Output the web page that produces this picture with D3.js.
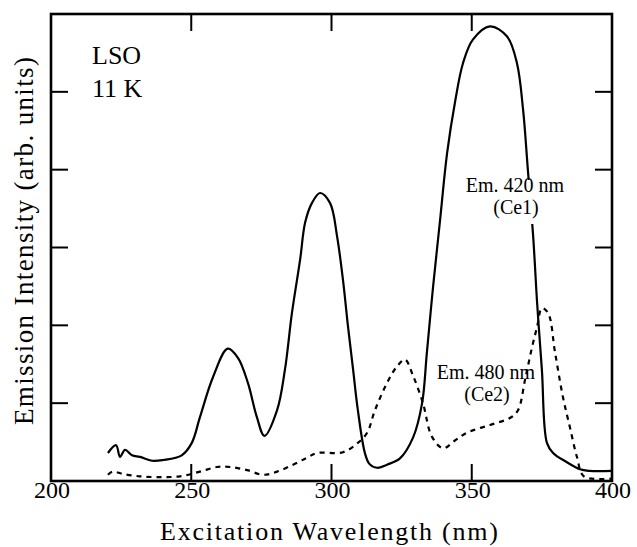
<!DOCTYPE html>
<html><head><meta charset="utf-8">
<script src="https://cdn.jsdelivr.net/npm/d3@7"></script>
<style>body{margin:0;background:#fff}</style>
</head><body>
<svg id="c" width="637" height="547"></svg>
<script>
// Data
const ce1X = [220.3,223.2,224.6,226.4,228.9,231.7,236,240,246.6,250.2,253.1,257.8,263,266.7,270.2,273.4,276.1,280.6,283.4,285.9,288.8,290.6,293,295.9,299.5,302,304.1,305.9,307.7,309.4,311.9,313.5,316.2,319.8,324.4,329.1,332.3,334,336.2,338.7,341.2,344,346.9,350.4,356.5,362.6,366.1,368.3,370,371.9,373.3,375,376.8,379,383.5,388.6,392,400];
const ce1Y = [0.36,0.46,0.31,0.40,0.33,0.31,0.26,0.27,0.33,0.49,0.82,1.34,1.70,1.58,1.26,0.82,0.58,0.91,1.43,2.16,2.84,3.32,3.57,3.70,3.57,3.14,2.58,1.98,1.43,0.91,0.36,0.22,0.17,0.21,0.29,0.56,1.0,1.65,2.49,3.35,4.21,4.86,5.37,5.67,5.84,5.71,5.37,4.77,4.0,3.14,2.29,1.43,0.49,0.36,0.25,0.15,0.13,0.13];
const ce2X = [220.3,222,225.7,231.7,238.9,246,253.1,259.2,263.8,269.9,275.6,280.6,286.3,291.3,295,304.1,309.4,312.7,315.5,319.8,323.3,326.2,329.1,332.6,335.8,339.8,344,348.3,356.5,363.6,366.5,369,371.5,373.3,375,377.2,379.7,382.5,385,387.5,390,400];
const ce2Y = [0.08,0.12,0.09,0.06,0.05,0.06,0.12,0.18,0.18,0.14,0.08,0.12,0.21,0.30,0.36,0.37,0.49,0.62,0.91,1.26,1.47,1.56,1.35,1.0,0.57,0.42,0.52,0.62,0.72,0.81,0.91,1.30,1.72,1.98,2.22,2.16,1.65,1.08,0.69,0.31,0.06,0.03];
const xTicks = [200,250,300,350,400];
const yTicks = [1,2,3,4,5];

const svg = d3.select("#c");
const L=51,R=612,T=14,B=481;
const x = d3.scaleLinear().domain([200,400]).range([L,R]);
const y = d3.scaleLinear().domain([0,6]).range([B,T]);
const font = "'Liberation Serif','Times New Roman',serif";

const line = d3.line().x(d=>x(d[0])).y(d=>y(d[1])).curve(d3.curveCatmullRom.alpha(0.5));
svg.append("path").attr("d", line(ce2X.map((v,i)=>[v,ce2Y[i]])))
  .attr("fill","none").attr("stroke","#000").attr("stroke-width",2.2).attr("stroke-dasharray","5,5");
svg.append("path").attr("d", line(ce1X.map((v,i)=>[v,ce1Y[i]])))
  .attr("fill","none").attr("stroke","#000").attr("stroke-width",2.2);

// ticks (inward) on all four sides
const tl=17;
const g = svg.append("g").attr("stroke","#000").attr("stroke-width",2);
xTicks.slice(1,-1).forEach(t=>{
  g.append("line").attr("x1",x(t)).attr("x2",x(t)).attr("y1",B).attr("y2",B-tl);
  g.append("line").attr("x1",x(t)).attr("x2",x(t)).attr("y1",T).attr("y2",T+tl);
});
yTicks.forEach(t=>{
  g.append("line").attr("x1",L).attr("x2",L+tl).attr("y1",y(t)).attr("y2",y(t));
  g.append("line").attr("x1",R).attr("x2",R-tl).attr("y1",y(t)).attr("y2",y(t));
});
svg.append("rect").attr("x",L).attr("y",T).attr("width",R-L).attr("height",B-T)
  .attr("fill","none").attr("stroke","#000").attr("stroke-width",2.6);

// tick labels
svg.selectAll("text.xt").data(xTicks).enter().append("text")
  .attr("x",d=>x(d)+1).attr("y",498).attr("text-anchor","middle")
  .attr("font-family",font).attr("font-size",24).text(d=>d);

// axis titles
svg.append("text").attr("x",329).attr("y",540).attr("text-anchor","middle")
  .attr("font-family",font).attr("font-size",26)
  .attr("textLength",338).attr("lengthAdjust","spacing")
  .text("Excitation Wavelength (nm)");
svg.append("text").attr("transform","translate(33,241) rotate(-90)").attr("text-anchor","middle")
  .attr("font-family",font).attr("font-size",27)
  .attr("textLength",368).attr("lengthAdjust","spacing")
  .text("Emission Intensity (arb. units)");

// annotations
svg.append("text").attr("x",92).attr("y",64).attr("font-family",font).attr("font-size",26).text("LSO");
svg.append("text").attr("x",92).attr("y",97).attr("font-family",font).attr("font-size",26).text("11 K");

svg.append("rect").attr("x",522).attr("y",180).attr("width",18).attr("height",44).attr("fill","#fff");
svg.append("text").attr("x",515).attr("y",192).attr("text-anchor","middle").attr("font-family",font).attr("font-size",20).text("Em. 420 nm");
svg.append("text").attr("x",516).attr("y",214).attr("text-anchor","middle").attr("font-family",font).attr("font-size",20).text("(Ce1)");
svg.append("text").attr("x",486).attr("y",379).attr("text-anchor","middle").attr("font-family",font).attr("font-size",20).text("Em. 480 nm");
svg.append("text").attr("x",487).attr("y",401).attr("text-anchor","middle").attr("font-family",font).attr("font-size",20).text("(Ce2)");
</script>
</body></html>
